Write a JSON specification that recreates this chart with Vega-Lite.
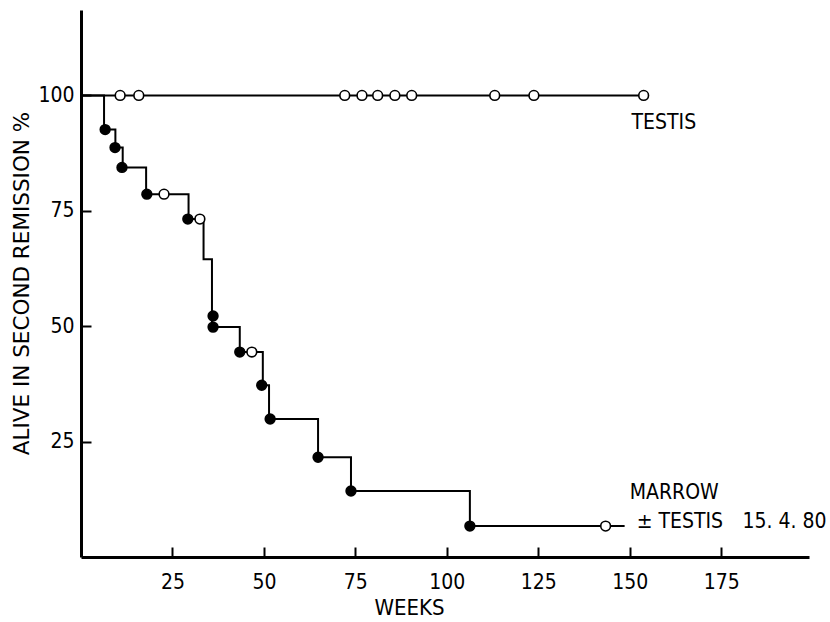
{
  "$schema": "https://vega.github.io/schema/vega-lite/v6.json",
  "width": 728,
  "height": 547,
  "autosize": {"type": "none"},
  "padding": {"left": 81, "top": 10, "right": 21, "bottom": 65},
  "background": "white",
  "config": {
    "view": {"stroke": null},
    "axis": {
      "grid": false,
      "domainColor": "black",
      "domainWidth": 3,
      "ticks": true,
      "tickColor": "black",
      "tickWidth": 2,
      "tickSize": -10,
      "labelFont": "DejaVu Sans Condensed, Roboto Condensed, Roboto, sans-serif",
      "labelFontSize": 21,
      "labelColor": "black",
      "titleColor": "black",
      "titleFontWeight": "normal"
    }
  },
  "datasets": {
    "curves": [
      {"series": "TESTIS", "week": 0, "pct": 100},
      {"series": "TESTIS", "week": 153.8, "pct": 100},
      {"series": "MARROW", "week": 0, "pct": 100},
      {"series": "MARROW", "week": 6.3, "pct": 92.6},
      {"series": "MARROW", "week": 9.4, "pct": 88.7},
      {"series": "MARROW", "week": 11.4, "pct": 84.4},
      {"series": "MARROW", "week": 17.8, "pct": 78.6},
      {"series": "MARROW", "week": 29.4, "pct": 73.2},
      {"series": "MARROW", "week": 33.5, "pct": 64.5},
      {"series": "MARROW", "week": 35.8, "pct": 52.2},
      {"series": "MARROW", "week": 35.8, "pct": 49.8},
      {"series": "MARROW", "week": 43.4, "pct": 44.4},
      {"series": "MARROW", "week": 49.7, "pct": 37.2},
      {"series": "MARROW", "week": 51.4, "pct": 29.9},
      {"series": "MARROW", "week": 64.8, "pct": 21.6},
      {"series": "MARROW", "week": 73.8, "pct": 14.3},
      {"series": "MARROW", "week": 106.3, "pct": 6.7},
      {"series": "MARROW", "week": 148.6, "pct": 6.7}
    ],
    "events": [
      {"series": "TESTIS", "week": 10.7, "pct": 100, "type": "censored"},
      {"series": "TESTIS", "week": 15.8, "pct": 100, "type": "censored"},
      {"series": "TESTIS", "week": 72.1, "pct": 100, "type": "censored"},
      {"series": "TESTIS", "week": 76.8, "pct": 100, "type": "censored"},
      {"series": "TESTIS", "week": 81.1, "pct": 100, "type": "censored"},
      {"series": "TESTIS", "week": 85.8, "pct": 100, "type": "censored"},
      {"series": "TESTIS", "week": 90.4, "pct": 100, "type": "censored"},
      {"series": "TESTIS", "week": 113.1, "pct": 100, "type": "censored"},
      {"series": "TESTIS", "week": 123.8, "pct": 100, "type": "censored"},
      {"series": "TESTIS", "week": 153.8, "pct": 100, "type": "censored"},
      {"series": "MARROW", "week": 6.6, "pct": 92.6, "type": "death"},
      {"series": "MARROW", "week": 9.3, "pct": 88.7, "type": "death"},
      {"series": "MARROW", "week": 11.2, "pct": 84.4, "type": "death"},
      {"series": "MARROW", "week": 18.0, "pct": 78.6, "type": "death"},
      {"series": "MARROW", "week": 22.7, "pct": 78.6, "type": "censored"},
      {"series": "MARROW", "week": 29.2, "pct": 73.2, "type": "death"},
      {"series": "MARROW", "week": 32.5, "pct": 73.2, "type": "censored"},
      {"series": "MARROW", "week": 36.1, "pct": 52.2, "type": "death"},
      {"series": "MARROW", "week": 36.1, "pct": 49.8, "type": "death"},
      {"series": "MARROW", "week": 43.4, "pct": 44.4, "type": "death"},
      {"series": "MARROW", "week": 46.7, "pct": 44.4, "type": "censored"},
      {"series": "MARROW", "week": 49.4, "pct": 37.2, "type": "death"},
      {"series": "MARROW", "week": 51.7, "pct": 29.9, "type": "death"},
      {"series": "MARROW", "week": 64.8, "pct": 21.6, "type": "death"},
      {"series": "MARROW", "week": 73.8, "pct": 14.3, "type": "death"},
      {"series": "MARROW", "week": 106.3, "pct": 6.7, "type": "death"},
      {"series": "MARROW", "week": 143.4, "pct": 6.7, "type": "censored"}
    ],
    "notes": [
      {"label": "TESTIS", "week": 150.5, "pct": 94.0, "anchor": "left"},
      {"label": "MARROW", "week": 150.0, "pct": 13.9, "anchor": "left"},
      {"label": "± TESTIS", "week": 151.9, "pct": 7.6, "anchor": "left"},
      {"label": "15. 4. 80", "week": 203.8, "pct": 7.6, "anchor": "right"}
    ]
  },
  "layer": [
    {
      "data": {"name": "curves"},
      "mark": {"type": "line", "interpolate": "step-after", "color": "black", "strokeWidth": 2},
      "encoding": {
        "x": {
          "field": "week", "type": "quantitative",
          "scale": {"domain": [0, 199], "nice": false, "zero": false},
          "axis": {
            "values": [25, 50, 75, 100, 125, 150, 175],
            "labelPadding": 24,
            "title": "WEEKS",
            "titleFont": "DejaVu Sans Condensed, Roboto Condensed, Roboto, sans-serif",
            "titleFontSize": 22,
            "titleX": 328,
            "titleY": 57,
            "titleBaseline": "alphabetic",
            "titleAlign": "center"
          }
        },
        "y": {
          "field": "pct", "type": "quantitative",
          "scale": {"domain": [0, 118.5], "nice": false, "zero": false},
          "axis": {
            "values": [25, 50, 75, 100],
            "labelPadding": 17,
            "title": "ALIVE IN SECOND REMISSION %",
            "titleFont": "DejaVu Sans",
            "titleFontSize": 21.5,
            "titleAngle": -90,
            "titleX": -59,
            "titleY": 273,
            "titleBaseline": "middle",
            "titleAlign": "center"
          }
        },
        "detail": {"field": "series"}
      }
    },
    {
      "data": {"name": "events"},
      "mark": {"type": "point", "shape": "circle", "filled": true, "size": 95, "stroke": "black", "strokeWidth": 1.6, "opacity": 1},
      "encoding": {
        "x": {"field": "week", "type": "quantitative"},
        "y": {"field": "pct", "type": "quantitative"},
        "fill": {"field": "type", "type": "nominal", "scale": {"domain": ["death", "censored"], "range": ["black", "white"]}, "legend": null}
      }
    },
    {
      "data": {"name": "notes"},
      "transform": [{"filter": "datum.anchor === 'left'"}],
      "mark": {"type": "text", "align": "left", "baseline": "middle", "font": "DejaVu Sans Condensed, Roboto Condensed, Roboto, sans-serif", "fontSize": 21, "color": "black"},
      "encoding": {
        "x": {"field": "week", "type": "quantitative"},
        "y": {"field": "pct", "type": "quantitative"},
        "text": {"field": "label"}
      }
    },
    {
      "data": {"name": "notes"},
      "transform": [{"filter": "datum.anchor === 'right'"}],
      "mark": {"type": "text", "align": "right", "baseline": "middle", "font": "DejaVu Sans Condensed, Roboto Condensed, Roboto, sans-serif", "fontSize": 21, "color": "black"},
      "encoding": {
        "x": {"field": "week", "type": "quantitative"},
        "y": {"field": "pct", "type": "quantitative"},
        "text": {"field": "label"}
      }
    }
  ]
}
